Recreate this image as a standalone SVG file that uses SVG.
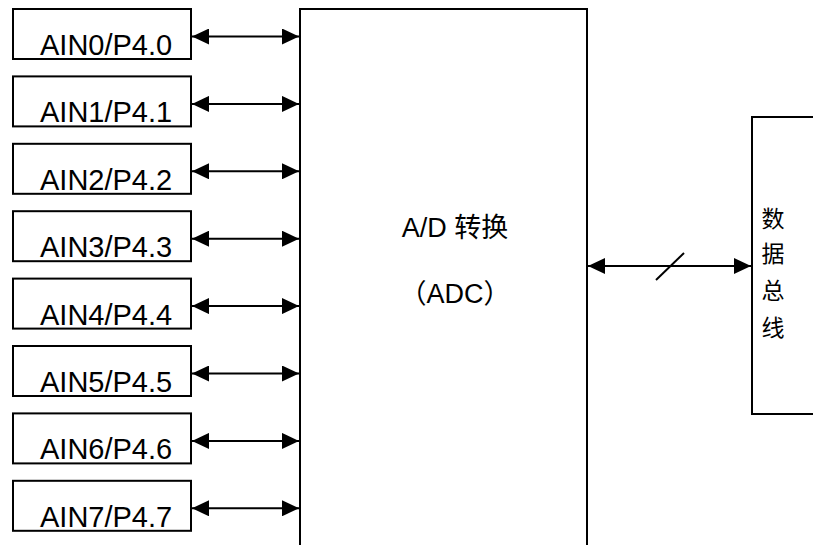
<svg xmlns="http://www.w3.org/2000/svg" width="813" height="545" viewBox="0 0 813 545">
<defs>
<style>
.box{fill:#fff;stroke:#000;stroke-width:2}
.lbl{font-family:"Liberation Sans",Arial,sans-serif;font-size:29px;fill:#000}
.mid{font-family:"Liberation Sans","Noto Sans CJK SC",sans-serif;font-size:27px;fill:#000}
.cn{font-family:"Noto Sans CJK SC",sans-serif;font-size:23px;fill:#000}
.conn{stroke:#000;stroke-width:2;fill:none;marker-start:url(#ah);marker-end:url(#ah)}
</style>
<marker id="ah" viewBox="0 0 17 16" refX="17" refY="8" markerWidth="17" markerHeight="16" markerUnits="userSpaceOnUse" orient="auto-start-reverse">
<path d="M0,0 L17,8 L0,16 Z" fill="#000"/>
</marker>
</defs>
<g id="adc">
<path class="box" d="M300,545 V9 H587 V545"/>
<text class="mid" x="455" y="237" text-anchor="middle">A/D 转换</text>
<text class="mid" x="455" y="303" text-anchor="middle">（ADC）</text>
</g>
<g id="bus">
<path class="box" d="M815,117 H752 V414 H815"/>
<text class="cn" x="773" y="227" text-anchor="middle">数</text>
<text class="cn" x="773" y="262" text-anchor="middle">据</text>
<text class="cn" x="773" y="299" text-anchor="middle">总</text>
<text class="cn" x="773" y="336" text-anchor="middle">线</text>
</g>
<g id="ain0"><rect class="box" x="13" y="9" width="178" height="50"/><text class="lbl" x="40" y="55">AIN0/P4.0</text></g>
<g id="ain1"><rect class="box" x="13" y="76.4" width="178" height="50"/><text class="lbl" x="40" y="122.4">AIN1/P4.1</text></g>
<g id="ain2"><rect class="box" x="13" y="143.8" width="178" height="50"/><text class="lbl" x="40" y="189.8">AIN2/P4.2</text></g>
<g id="ain3"><rect class="box" x="13" y="211.2" width="178" height="50"/><text class="lbl" x="40" y="257.2">AIN3/P4.3</text></g>
<g id="ain4"><rect class="box" x="13" y="278.6" width="178" height="50"/><text class="lbl" x="40" y="324.6">AIN4/P4.4</text></g>
<g id="ain5"><rect class="box" x="13" y="346" width="178" height="50"/><text class="lbl" x="40" y="392">AIN5/P4.5</text></g>
<g id="ain6"><rect class="box" x="13" y="413.4" width="178" height="50"/><text class="lbl" x="40" y="459.4">AIN6/P4.6</text></g>
<g id="ain7"><rect class="box" x="13" y="480.8" width="178" height="50"/><text class="lbl" x="40" y="526.8">AIN7/P4.7</text></g>
<g id="connectors">
<line class="conn" x1="192" y1="36.5" x2="299" y2="36.5"/>
<line class="conn" x1="192" y1="103.9" x2="299" y2="103.9"/>
<line class="conn" x1="192" y1="171.3" x2="299" y2="171.3"/>
<line class="conn" x1="192" y1="238.7" x2="299" y2="238.7"/>
<line class="conn" x1="192" y1="306.1" x2="299" y2="306.1"/>
<line class="conn" x1="192" y1="373.5" x2="299" y2="373.5"/>
<line class="conn" x1="192" y1="440.9" x2="299" y2="440.9"/>
<line class="conn" x1="192" y1="508.3" x2="299" y2="508.3"/>
<line class="conn" x1="588" y1="266" x2="751" y2="266"/>
<line x1="656" y1="280" x2="684" y2="253" stroke="#000" stroke-width="2"/>
</g>
</svg>
